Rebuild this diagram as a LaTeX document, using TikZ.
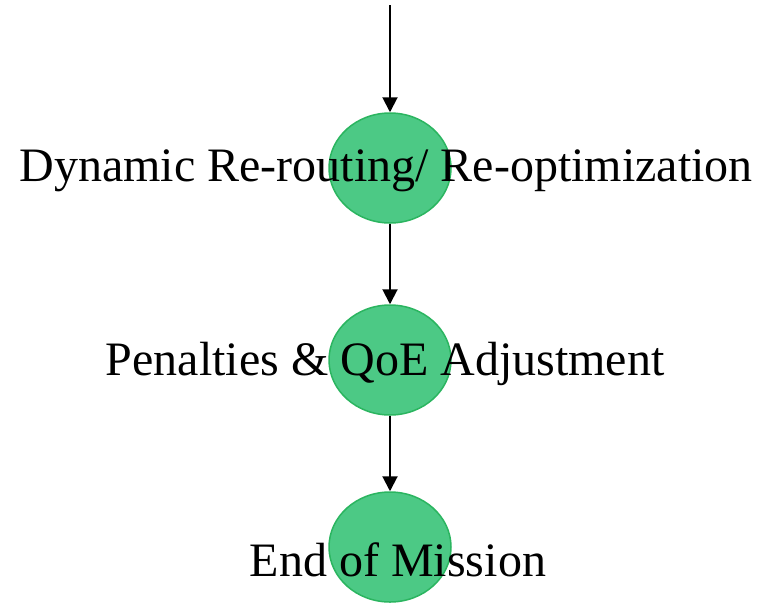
\documentclass[tikz,border=0pt]{standalone}
\usepackage{fontspec}
\setmainfont{Liberation Serif}
\usetikzlibrary{shapes.geometric,arrows.meta}
\definecolor{nodefill}{HTML}{4CC985}
\definecolor{nodeline}{HTML}{2BB560}
\tikzset{
  state/.style={ellipse,draw=nodeline,line width=1.5pt,fill=nodefill,minimum width=122pt,minimum height=110pt,inner sep=0pt},
  lbl/.style={font=\fontsize{48}{48}\selectfont,inner sep=0pt},
  flow/.style={line width=2pt,-{Triangle[width=15pt,length=15pt]}}
}
\begin{document}
\begin{tikzpicture}[x=1pt,y=-1pt]
\useasboundingbox (0,0) rectangle (773,603);
\coordinate (start) at (390,5);
\node[state] (a) at (390,168) {};
\node[state] (b) at (390,360) {};
\node[state] (c) at (390,547) {};
\node[lbl] (ta) at (386,171) {Dynamic Re-routing/ Re-optimization};
\node[lbl] (tb) at (385,364) {Penalties \& QoE Adjustment};
\node[lbl] (tc) at (398,560) {End of Mission};
\draw[flow] (start) -- (a);
\draw[flow] (a) -- (b);
\draw[flow] (b) -- (c);
\end{tikzpicture}
\end{document}
